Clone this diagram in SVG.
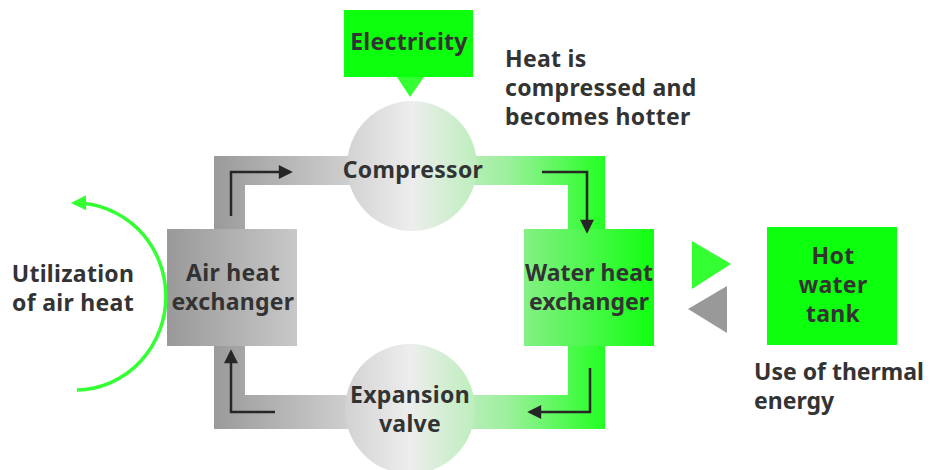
<svg xmlns="http://www.w3.org/2000/svg" width="930" height="470" viewBox="0 0 930 470">
  <style>
    text { font-family: "Noto Sans", "Noto Sans CJK JP", sans-serif; font-weight: 700; fill: #333; font-size: 23px; letter-spacing: 0.3px; }
    .c { text-anchor: middle; }
    .tight { letter-spacing: 0; }
    .flow { fill: none; stroke: #262626; stroke-width: 2.5; marker-end: url(#ah); }
  </style>
  <defs>
    <linearGradient id="band" gradientUnits="userSpaceOnUse" x1="214" y1="0" x2="605" y2="0">
      <stop offset="0" stop-color="#9a9a9a"/>
      <stop offset="0.5" stop-color="#e6e6e6"/>
      <stop offset="0.75" stop-color="#9cf09c"/>
      <stop offset="1" stop-color="#22ff22"/>
    </linearGradient>
    <linearGradient id="circ" x1="0" y1="0" x2="1" y2="0">
      <stop offset="0" stop-color="#d2d2d2"/>
      <stop offset="0.5" stop-color="#ededed"/>
      <stop offset="1" stop-color="#bdeebd"/>
    </linearGradient>
    <linearGradient id="airg" x1="0" y1="0" x2="1" y2="0">
      <stop offset="0" stop-color="#999999"/>
      <stop offset="1" stop-color="#c8c8c8"/>
    </linearGradient>
    <linearGradient id="watg" x1="0" y1="0" x2="1" y2="0">
      <stop offset="0" stop-color="#84f084"/>
      <stop offset="1" stop-color="#11ff11"/>
    </linearGradient>
    <marker id="ah" viewBox="0 0 10 10" refX="8" refY="5" markerUnits="userSpaceOnUse" markerWidth="15" markerHeight="14" orient="auto">
      <path d="M0,0 L10,5 L0,10 z" fill="#262626"/>
    </marker>
    <marker id="gh" viewBox="0 0 10 10" refX="8" refY="5" markerUnits="userSpaceOnUse" markerWidth="16" markerHeight="15" orient="auto">
      <path d="M0,0 L10,5 L0,10 z" fill="#33ff33"/>
    </marker>
  </defs>

  <g id="loop">
    <path d="M214,156 H605 V429 H214 Z M245,185 V395 H568 V185 Z" fill="url(#band)" fill-rule="evenodd"/>
  </g>

  <g id="electricity">
    <rect x="344" y="10" width="129" height="67" fill="#0cff0c"/>
    <polygon points="397,77 424,77 410,97" fill="#33ff33"/>
    <text class="c" x="409" y="50">Electricity</text>
  </g>

  <g id="compressor">
    <circle cx="412" cy="166" r="65" fill="url(#circ)"/>
    <text class="c" x="413" y="178">Compressor</text>
  </g>

  <g id="expansion-valve">
    <circle cx="410" cy="409" r="65" fill="url(#circ)"/>
    <text class="c" x="410" y="403">Expansion</text>
    <text class="c" x="410" y="432">valve</text>
  </g>

  <g id="air-heat-exchanger">
    <rect x="167" y="229" width="130" height="117" fill="url(#airg)"/>
    <text class="c" x="233" y="281">Air heat</text>
    <text class="c" x="233" y="310">exchanger</text>
  </g>

  <g id="water-heat-exchanger">
    <rect x="524" y="229" width="130" height="117" fill="url(#watg)"/>
    <text class="c tight" x="589" y="281">Water heat</text>
    <text class="c tight" x="589" y="310">exchanger</text>
  </g>

  <g id="hot-water-tank">
    <rect x="767" y="227" width="130" height="118" fill="#0cff0c"/>
    <text class="c" x="833" y="264">Hot</text>
    <text class="c" x="833" y="293">water</text>
    <text class="c" x="833" y="322">tank</text>
  </g>

  <g id="labels">
    <text x="505" y="67">Heat is</text>
    <text x="505" y="96">compressed and</text>
    <text x="505" y="125">becomes hotter</text>
    <text class="c" x="73" y="282">Utilization</text>
    <text class="c" x="73" y="311">of air heat</text>
    <text class="tight" x="754" y="380">Use of thermal</text>
    <text class="tight" x="754" y="409">energy</text>
  </g>

  <g id="connectors">
    <polyline class="flow" points="231,216 231,172 290,172"/>
    <polyline class="flow" points="542,172 587,172 587,231"/>
    <polyline class="flow" points="590,368 590,412 530,412"/>
    <polyline class="flow" points="275,412 231,412 231,352"/>
    <path d="M77,390 A87,90 0 0 0 74,203" fill="none" stroke="#33ff33" stroke-width="3.5" marker-end="url(#gh)"/>
    <polygon points="692,241 692,289 731,264" fill="#33ff33"/>
    <polygon points="727,286 727,333 688,309" fill="#999999"/>
  </g>
</svg>
